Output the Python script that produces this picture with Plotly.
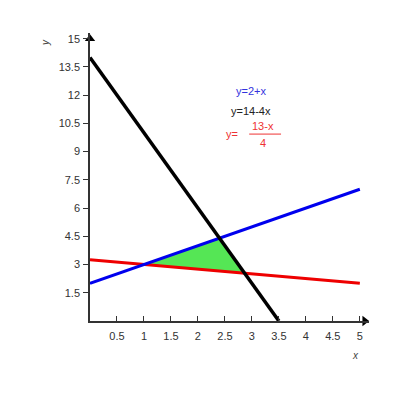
import plotly.graph_objects as go

# Data
x_ends = [0, 5]
blue_y = [2, 7]            # y = 2 + x
black_x = [0, 3.5]
black_y = [14, 0]          # y = 14 - 4x
red_y = [3.25, 2]          # y = (13 - x)/4
x_ticks = [0.5, 1, 1.5, 2, 2.5, 3, 3.5, 4, 4.5, 5]
y_ticks = [1.5, 3, 4.5, 6, 7.5, 9, 10.5, 12, 13.5, 15]

# Intersections for region (from line equations)
def blue(x): return 2 + x
def black(x): return 14 - 4 * x
def red(x): return (13 - x) / 4
xa = 1.0
xb = 12 / 5
xc = 43 / 15
tri_x = [xa, xb, xc, xa]
tri_y = [blue(xa), blue(xb), red(xc), blue(xa)]

XMAX, YMAX = 5.17, 15.3

fig = go.Figure()
fig.add_trace(go.Scatter(x=tri_x, y=tri_y, fill="toself", fillcolor="#55e655",
                         line=dict(width=0), mode="lines", hoverinfo="skip"))
fig.add_trace(go.Scatter(x=x_ends, y=red_y, mode="lines",
                         line=dict(color="#ee0000", width=3)))
fig.add_trace(go.Scatter(x=x_ends, y=blue_y, mode="lines",
                         line=dict(color="#0000ee", width=3)))
fig.add_trace(go.Scatter(x=black_x, y=black_y, mode="lines",
                         line=dict(color="#000000", width=3.5)))
# axis arrowheads
fig.add_trace(go.Scatter(x=[XMAX - 0.08], y=[0], mode="markers", cliponaxis=False,
                         marker=dict(symbol="triangle-right", size=9, color="#000")))
fig.add_trace(go.Scatter(x=[0], y=[YMAX - 0.3], mode="markers", cliponaxis=False,
                         marker=dict(symbol="triangle-up", size=9, color="#000")))

font = "Liberation Sans, Arial, sans-serif"
ann = []
ann.append(dict(x=2.98, y=12.23, text="y=2+x", showarrow=False,
                font=dict(color="#3333dd", size=11, family=font)))
ann.append(dict(x=2.98, y=11.17, text="y=14-4x", showarrow=False,
                font=dict(color="#222222", size=11, family=font)))
ann.append(dict(x=2.63, y=9.93, text="y=", showarrow=False,
                font=dict(color="#ee3333", size=11, family=font)))
ann.append(dict(x=3.2, y=10.35, text="13-x", showarrow=False,
                font=dict(color="#ee3333", size=11, family=font)))
ann.append(dict(x=3.2, y=9.45, text="4", showarrow=False,
                font=dict(color="#ee3333", size=11, family=font)))
ann.append(dict(xref="paper", yref="paper", x=-0.162, y=0.968,
                xanchor="center", yanchor="middle",
                text="<i>y</i>", textangle=-90, showarrow=False,
                font=dict(color="#444", size=10, family=font)))
ann.append(dict(xref="paper", yref="paper", x=0.95, y=-0.119,
                xanchor="center", yanchor="middle",
                text="<i>x</i>", showarrow=False,
                font=dict(color="#444", size=10, family=font)))

fig.add_shape(type="line", x0=2.95, x1=3.54, y0=9.93, y1=9.93,
              line=dict(color="#ee3333", width=1))

fig.update_layout(
    width=400, height=400,
    margin=dict(l=82, r=39, t=25, b=87),
    plot_bgcolor="white", paper_bgcolor="white",
    showlegend=False, annotations=ann,
    xaxis=dict(range=[0, XMAX], tickvals=x_ticks,
               ticktext=[str(v) for v in x_ticks],
               showgrid=False, zeroline=False, showline=True,
               linecolor="#333", linewidth=1.5, ticks="inside",
               ticklen=5, tickcolor="#333", ticklabelstandoff=4,
               tickfont=dict(size=11, color="#333", family=font)),
    yaxis=dict(range=[0, YMAX], tickvals=y_ticks,
               ticktext=[str(v) for v in y_ticks],
               showgrid=False, zeroline=False, showline=True,
               linecolor="#333", linewidth=1.5, ticks="outside",
               ticklen=5, tickcolor="#333", ticklabelstandoff=1,
               tickfont=dict(size=11, color="#333", family=font)),
)
fig.write_html("out.html")
